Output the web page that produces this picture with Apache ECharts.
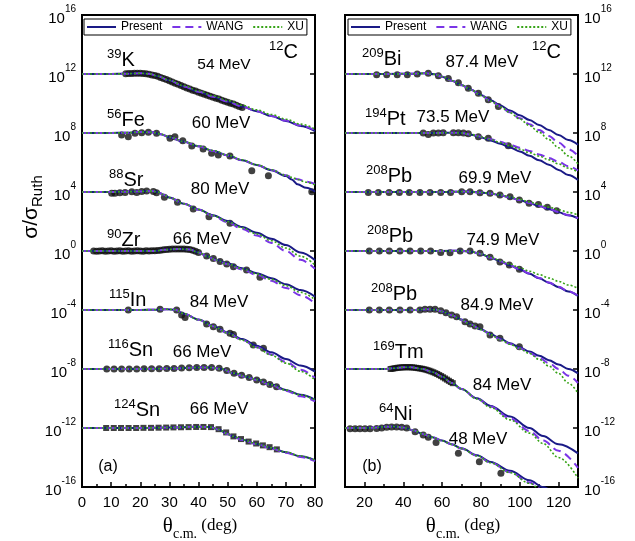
<!DOCTYPE html>
<html>
<head>
<meta charset="utf-8">
<script src="https://cdn.jsdelivr.net/npm/echarts@6/dist/echarts.min.js"></script>
<style>
  html, body { margin: 0; padding: 0; background: #fff; }
  #chart { width: 635px; height: 541px; }
</style>
</head>
<body>
<div id="chart"></div>
<script>
// Elastic 12C scattering: log10(sigma / sigma_Ruth) versus theta_c.m. (deg).
// Each reaction is shifted by a power of ten (the *Shift values) so the curves stack.

// ---------- panel (a) ----------
const k39Shift = 12;
const k39Theta   = [0, 10, 15, 20, 23, 26, 30, 35, 40, 45, 50, 55, 60, 65, 70, 75, 80];
const k39Present = [0, 0, 0.02, 0.05, 0.02, -0.15, -0.44, -0.84, -1.2, -1.54, -1.87, -2.2, -2.52, -2.85, -3.18, -3.52, -3.87];
const k39Wang    = [0, 0, 0.02, 0.05, 0.02, -0.15, -0.44, -0.84, -1.2, -1.54, -1.87, -2.2, -2.52, -2.84, -3.16, -3.49, -3.83];
const k39Xu      = [0, 0, 0.02, 0.05, 0.02, -0.14, -0.42, -0.8, -1.15, -1.48, -1.8, -2.12, -2.43, -2.75, -3.07, -3.4, -3.72];
const k39ExpTheta = [15, 16, 17, 18, 19, 20, 21, 22, 23, 24, 25, 26, 27, 28, 29, 30, 31, 32, 33, 34, 35, 36, 37, 38, 39, 40, 41, 42, 43, 44, 45, 46, 47, 48, 49, 50, 51, 52, 53, 54, 55];
const k39Exp = [0.02, 0.03, 0.04, 0.05, 0.05, 0.05, 0.04, 0.02, -0.02, -0.06, -0.1, -0.16, -0.24, -0.3, -0.38, -0.46, -0.55, -0.62, -0.7, -0.78, -0.87, -0.95, -1.02, -1.1, -1.16, -1.24, -1.3, -1.37, -1.44, -1.5, -1.58, -1.64, -1.7, -1.78, -1.85, -1.92, -1.98, -2.04, -2.12, -2.2, -2.27];

const fe56Shift = 8;
const fe56Theta   = [0, 10, 15, 20, 24, 27, 30, 35, 40, 45, 50, 55, 60, 65, 70, 72, 74, 77, 80];
const fe56Present = [0, 0, 0.02, 0.06, 0.05, -0.08, -0.28, -0.6, -0.9, -1.22, -1.52, -1.85, -2.17, -2.52, -2.92, -3.15, -3.48, -3.72, -3.98];
const fe56Wang    = [0, 0, 0.02, 0.06, 0.05, -0.08, -0.28, -0.6, -0.9, -1.22, -1.52, -1.85, -2.17, -2.5, -2.86, -3.0, -3.13, -3.3, -3.46];
const fe56Xu      = [0, 0, 0.02, 0.06, 0.05, -0.07, -0.27, -0.58, -0.88, -1.19, -1.5, -1.82, -2.15, -2.49, -2.86, -3.01, -3.15, -3.34, -3.52];
const fe56ExpTheta = [13.6, 15.9, 18.2, 20.5, 22.8, 25.6, 30.2, 31.9, 34.6, 37.7, 41.6, 44.5, 46.8, 50.8, 58.3, 64.0, 78.9];
const fe56Exp = [-0.14, -0.25, -0.02, 0.02, 0.05, -0.02, -0.36, -0.25, -0.52, -0.88, -1.08, -1.38, -1.49, -1.56, -2.56, -2.9, -3.98];

const sr88Shift = 4;
const sr88Theta   = [0, 10, 15, 20, 24, 26, 28, 30, 35, 40, 45, 50, 55, 60, 65, 70, 75, 80];
const sr88Present = [0, 0, 0.02, 0.04, 0.06, 0.0, -0.18, -0.38, -0.8, -1.18, -1.57, -1.97, -2.37, -2.77, -3.17, -3.6, -4.1, -4.62];
const sr88Wang    = [0, 0, 0.02, 0.04, 0.06, 0.0, -0.18, -0.38, -0.8, -1.2, -1.62, -2.05, -2.5, -2.95, -3.45, -4.0, -4.6, -5.2];
const sr88Xu      = [0, 0, 0.02, 0.04, 0.06, 0.0, -0.18, -0.38, -0.8, -1.19, -1.6, -2.0, -2.42, -2.85, -3.3, -3.8, -4.35, -4.95];
const sr88ExpTheta = [10.2, 11.3, 13.0, 14.8, 17.1, 18.8, 20.5, 22.2, 24.5, 25.6, 28.3, 32.8, 38.2, 43.6, 50.8];
const sr88Exp = [-0.08, -0.08, -0.05, -0.04, 0.02, -0.03, 0.03, 0.07, 0.04, -0.05, -0.36, -0.7, -1.15, -1.67, -2.12];

const zr90Shift = 0;
const zr90Theta   = [0, 10, 20, 25, 28, 33, 37, 40, 43, 46, 50, 55, 60, 65, 70, 75, 80];
const zr90Present = [0, 0, 0, 0, 0.08, 0.14, 0.1, -0.1, -0.35, -0.6, -0.85, -1.17, -1.5, -1.85, -2.25, -2.65, -3.1];
const zr90Wang    = [0, 0, 0, 0, 0.08, 0.14, 0.1, -0.1, -0.36, -0.62, -0.9, -1.25, -1.62, -2.02, -2.5, -3.0, -3.55];
const zr90Xu      = [0, 0, 0, 0, 0.08, 0.14, 0.1, -0.1, -0.35, -0.61, -0.88, -1.2, -1.55, -1.92, -2.35, -2.8, -3.3];
const zr90ExpTheta = [4, 5, 6, 7, 8, 9, 10, 11, 12, 13, 14, 15, 16, 17, 18, 19, 20, 21, 22, 23, 24, 25, 26, 27, 28, 29, 30, 31, 32, 33, 34, 35, 36, 37, 38, 39, 40, 42.8, 45.1, 47.4, 49.7, 52, 56.5, 61.1];
const zr90Exp = [0, -0.02, 0, 0.01, -0.02, 0, 0.01, -0.01, 0, 0.02, -0.01, 0, 0.01, -0.02, 0, 0.01, 0, -0.01, 0.01, 0, 0.02, 0.01, 0.03, 0.05, 0.08, 0.1, 0.12, 0.13, 0.14, 0.14, 0.14, 0.13, 0.12, 0.1, 0.05, -0.02, -0.1, -0.34, -0.5, -0.72, -0.88, -1.06, -1.29, -1.78];

const in115Shift = -4;
const in115Theta   = [0, 10, 20, 25, 29, 32, 35, 40, 45, 50, 55, 60, 65, 70, 75, 80];
const in115Present = [0, 0, 0, 0.02, 0.05, 0.02, -0.25, -0.65, -1.08, -1.52, -1.97, -2.42, -2.87, -3.32, -3.76, -4.18];
const in115Wang    = [0, 0, 0, 0.02, 0.05, 0.02, -0.25, -0.66, -1.1, -1.56, -2.03, -2.52, -3.02, -3.52, -4.05, -4.6];
const in115Xu      = [0, 0, 0, 0.02, 0.05, 0.02, -0.25, -0.66, -1.1, -1.56, -2.04, -2.54, -3.06, -3.6, -4.16, -4.75];
const in115ExpTheta = [15.9, 26.8, 32.5, 34.2, 35.4, 42.8, 45.1, 47.4, 50.8, 52.0, 58.8, 62.3];
const in115Exp = [0, 0.05, 0, -0.34, -0.5, -0.95, -1.13, -1.31, -1.58, -1.66, -2.37, -2.6];

const sn116Shift = -8;
const sn116Theta   = [0, 10, 20, 30, 40, 44, 48, 52, 56, 60, 65, 70, 75, 80];
const sn116Present = [0, 0, 0, 0.03, 0.1, 0.1, 0.0, -0.28, -0.5, -0.72, -1.05, -1.42, -1.75, -2.08];
const sn116Wang    = [0, 0, 0, 0.03, 0.1, 0.1, 0.0, -0.29, -0.52, -0.75, -1.1, -1.48, -1.84, -2.2];
const sn116Xu      = [0, 0, 0, 0.03, 0.1, 0.1, 0.0, -0.28, -0.5, -0.72, -1.06, -1.43, -1.76, -2.1];
const sn116ExpTheta = [8.5, 11.0, 13.6, 16.2, 18.8, 21.3, 23.9, 26.5, 29.1, 31.6, 34.2, 36.8, 39.4, 41.9, 44.5, 47.1, 49.7, 52.2, 54.8, 57.4, 60.0, 62.3, 64.5, 66.8];
const sn116Exp = [0, 0, 0, 0, 0, 0.01, 0.01, 0.02, 0.03, 0.04, 0.06, 0.08, 0.1, 0.1, 0.1, 0.05, -0.1, -0.28, -0.42, -0.58, -0.75, -0.88, -1.05, -1.2];

const sn124Shift = -12;
const sn124Theta   = [0, 10, 20, 30, 40, 44, 47, 50, 52, 55, 60, 65, 70, 75, 80];
const sn124Present = [0, 0, 0, 0.03, 0.08, 0.06, -0.12, -0.4, -0.57, -0.8, -1.08, -1.35, -1.65, -1.92, -2.2];
const sn124Wang    = [0, 0, 0, 0.03, 0.08, 0.06, -0.12, -0.41, -0.58, -0.82, -1.1, -1.38, -1.68, -1.96, -2.25];
const sn124Xu      = [0, 0, 0, 0.03, 0.08, 0.06, -0.11, -0.39, -0.56, -0.79, -1.07, -1.34, -1.63, -1.9, -2.18];
const sn124ExpTheta = [8.3, 10.9, 13.4, 16.0, 18.6, 21.1, 23.7, 26.3, 28.9, 31.4, 34.0, 36.6, 39.2, 41.7, 44.3, 46.9, 49.5, 52.0, 54.6, 57.2, 59.8, 62.1, 64.4, 66.9];
const sn124Exp = [0, 0, 0, 0, 0, 0.01, 0.01, 0.02, 0.03, 0.04, 0.05, 0.06, 0.07, 0.07, 0.06, -0.08, -0.3, -0.57, -0.75, -0.92, -1.05, -1.18, -1.3, -1.45];

// ---------- panel (b) ----------
const bi209Shift = 12;
const bi209Theta   = [10, 30, 45, 52, 56, 60, 65, 70, 75, 80, 85, 90, 95, 100, 105, 110, 115, 120, 125, 130];
const bi209Present = [0, 0, 0.02, 0.05, -0.02, -0.18, -0.45, -0.75, -1.07, -1.42, -1.78, -2.13, -2.47, -2.8, -3.12, -3.45, -3.8, -4.13, -4.47, -4.8];
const bi209Wang    = [0, 0, 0.02, 0.05, -0.02, -0.18, -0.45, -0.76, -1.09, -1.45, -1.83, -2.2, -2.6, -3.0, -3.4, -3.8, -4.2, -4.65, -5.1, -5.55];
const bi209Xu      = [0, 0, 0.02, 0.05, -0.02, -0.17, -0.44, -0.75, -1.08, -1.45, -1.84, -2.22, -2.62, -3.05, -3.5, -3.95, -4.45, -5.0, -5.55, -6.1];
const bi209ExpTheta = [26.3, 31.5, 36.9, 42.1, 47.2, 52.9, 58.1, 63.2, 68.4, 73.5, 78.7, 83.8, 89.0];
const bi209Exp = [-0.05, -0.05, -0.05, -0.05, 0, 0.05, -0.12, -0.3, -0.6, -0.97, -1.3, -1.75, -2.2];

const pt194Shift = 8;
const pt194Theta   = [10, 40, 55, 65, 70, 75, 80, 85, 90, 95, 100, 105, 110, 115, 120, 125, 130];
const pt194Present = [0, 0, 0, 0.02, 0, -0.12, -0.3, -0.5, -0.73, -0.98, -1.25, -1.55, -1.85, -2.15, -2.5, -2.85, -3.19];
const pt194Wang    = [0, 0, 0, 0.02, 0, -0.1, -0.25, -0.42, -0.6, -0.8, -1.0, -1.22, -1.45, -1.7, -1.95, -2.25, -2.55];
const pt194Xu      = [0, 0, 0, 0.02, 0, -0.1, -0.26, -0.45, -0.65, -0.87, -1.1, -1.33, -1.57, -1.82, -2.1, -2.38, -2.65];
const pt194ExpTheta = [50.3, 52.9, 55.5, 58.1, 60.6, 65.8, 68.4, 71.0, 73.5, 78.7, 83.8, 94.1];
const pt194Exp = [0, -0.1, 0, 0, 0.02, 0.02, 0.02, 0, -0.05, -0.25, -0.36, -0.86];

const pb70Shift = 4;
const pb70Theta   = [10, 60, 72, 80, 85, 90, 95, 100, 105, 110, 115, 120, 125, 130];
const pb70Present = [0, 0, 0.03, -0.03, -0.1, -0.22, -0.38, -0.55, -0.75, -0.95, -1.15, -1.38, -1.58, -1.79];
const pb70Wang    = [0, 0, 0.03, -0.03, -0.1, -0.22, -0.38, -0.55, -0.74, -0.94, -1.14, -1.36, -1.57, -1.78];
const pb70Xu      = [0, 0, 0.03, -0.03, -0.09, -0.2, -0.34, -0.5, -0.68, -0.85, -1.03, -1.2, -1.38, -1.56];
const pb70ExpTheta = [22.0, 27.2, 32.7, 38.0, 43.1, 48.6, 53.8, 59.3, 64.4, 70.1, 74.4, 79.5, 84.7, 89.8, 95.0, 99.8, 104.8, 109.6, 114.2, 119.0];
const pb70Exp = [-0.03, -0.03, -0.03, -0.03, -0.03, -0.03, -0.03, -0.03, -0.03, 0.02, 0.02, -0.05, -0.09, -0.2, -0.32, -0.54, -0.77, -0.84, -1.04, -1.27];

const pb75Shift = 0;
const pb75Theta   = [10, 60, 70, 75, 80, 85, 90, 95, 100, 105, 110, 115, 120, 125, 130];
const pb75Present = [0, 0, 0.02, -0.05, -0.2, -0.45, -0.7, -0.98, -1.25, -1.55, -1.85, -2.15, -2.45, -2.75, -3.05];
const pb75Wang    = [0, 0, 0.02, -0.05, -0.2, -0.45, -0.7, -0.97, -1.24, -1.53, -1.83, -2.13, -2.43, -2.73, -3.03];
const pb75Xu      = [0, 0, 0.02, -0.05, -0.2, -0.43, -0.66, -0.9, -1.13, -1.37, -1.6, -1.83, -2.06, -2.3, -2.53];
const pb75ExpTheta = [22.5, 27.7, 32.8, 38.3, 43.5, 49.0, 54.1, 59.3, 64.1, 69.3, 74.4, 79.5, 84.7, 89.8, 94.6, 99.8];
const pb75Exp = [0, 0, 0, 0, 0, 0, 0, -0.1, -0.12, 0, 0, -0.15, -0.43, -0.75, -0.95, -1.24];

const pb85Shift = -4;
const pb85Theta   = [10, 45, 52, 57, 60, 65, 70, 75, 80, 85, 90, 95, 100, 105, 110, 115, 120, 125, 130];
const pb85Present = [0, 0, 0.05, 0.02, -0.1, -0.35, -0.65, -0.98, -1.3, -1.62, -1.95, -2.25, -2.55, -2.82, -3.1, -3.4, -3.7, -4.0, -4.3];
const pb85Wang    = [0, 0, 0.05, 0.02, -0.1, -0.36, -0.67, -1.0, -1.33, -1.66, -2.0, -2.3, -2.6, -2.9, -3.25, -3.6, -4.0, -4.45, -4.95];
const pb85Xu      = [0, 0, 0.05, 0.02, -0.1, -0.36, -0.67, -1.0, -1.33, -1.67, -2.02, -2.32, -2.62, -2.95, -3.35, -3.8, -4.3, -4.95, -5.65];
const pb85ExpTheta = [22.5, 27.7, 32.8, 38.3, 43.5, 48.6, 51.2, 53.8, 56.4, 59.3, 62.0, 64.9, 67.5, 71.8, 74.4, 77.0, 79.5, 84.7, 89.8, 99.8];
const pb85Exp = [0, 0, 0, 0, 0, 0, 0.05, 0.05, 0.05, -0.05, -0.18, -0.34, -0.45, -0.79, -0.95, -1.08, -1.13, -1.69, -1.92, -2.49];

const tm169Shift = -8;
const tm169Theta   = [10, 30, 35, 40, 44, 50, 55, 60, 65, 70, 78, 85, 95, 105, 112, 120, 130];
const tm169Present = [0, 0, 0.05, 0.12, 0.12, 0.0, -0.2, -0.52, -0.95, -1.35, -1.99, -2.5, -3.22, -4.0, -4.55, -5.1, -5.72];
const tm169Wang    = [0, 0, 0.05, 0.12, 0.12, 0.0, -0.2, -0.52, -0.95, -1.36, -2.02, -2.55, -3.35, -4.2, -4.85, -5.55, -6.7];
const tm169Xu      = [0, 0, 0.05, 0.12, 0.12, 0.0, -0.2, -0.52, -0.95, -1.36, -2.03, -2.6, -3.45, -4.35, -5.05, -6.0, -7.4];
const tm169ExpTheta = [33.5, 34.5, 35.5, 36.5, 37.5, 38.5, 39.5, 40.5, 41.5, 42.5, 43.5, 44.5, 45.5, 46.5, 47.5, 48.5, 49.5, 50.5, 51.5, 52.5, 53.5, 54.5, 55.5, 56.5, 57.5, 58.5, 59.5, 60.5, 61.5, 62.5, 63.5, 64.5, 65.5];
const tm169Exp = [0.0, 0.02, 0.05, 0.07, 0.09, 0.1, 0.11, 0.12, 0.12, 0.12, 0.12, 0.11, 0.1, 0.08, 0.06, 0.04, 0.02, -0.01, -0.04, -0.08, -0.12, -0.17, -0.22, -0.28, -0.34, -0.41, -0.48, -0.56, -0.64, -0.72, -0.8, -0.88, -0.96];

const ni64Shift = -12;
const ni64Theta   = [10, 20, 25, 30, 35, 40, 45, 50, 55, 60, 65, 70, 78, 85, 95, 105, 112, 120, 130];
const ni64Present = [0, 0, 0.02, 0.08, 0.1, 0.03, -0.15, -0.4, -0.63, -0.85, -1.1, -1.38, -1.85, -2.3, -2.9, -3.55, -4.0, -4.55, -5.2];
const ni64Wang    = [0, 0, 0.02, 0.08, 0.1, 0.03, -0.15, -0.4, -0.63, -0.86, -1.12, -1.4, -1.88, -2.35, -3.0, -3.7, -4.2, -4.8, -5.5];
const ni64Xu      = [0, 0, 0.02, 0.08, 0.1, 0.03, -0.15, -0.4, -0.63, -0.86, -1.12, -1.4, -1.88, -2.36, -3.02, -3.75, -4.3, -4.95, -5.7];
const ni64ExpTheta = [12.6, 15.2, 17.7, 20.3, 22.9, 26.3, 28.9, 31.5, 34.0, 36.6, 39.2, 41.8, 46.1, 50.3, 52.9, 56.9, 68.4, 79.2, 90.3];
const ni64Exp = [-0.05, -0.05, -0.05, -0.05, -0.05, -0.03, 0.0, 0.05, 0.07, 0.07, 0.05, 0.0, -0.25, -0.47, -0.63, -0.99, -1.72, -2.28, -3.07];

// tick values
const xTicksA = [0, 10, 20, 30, 40, 50, 60, 70, 80];
const xTicksB = [20, 40, 60, 80, 100, 120];
const xMinorB = [30, 50, 70, 90, 110];

// ---------- assemble ----------
const panels = [
  { panel: 0, shift: k39Shift,  theta: k39Theta,  present: k39Present,  wang: k39Wang,  xu: k39Xu,  expTheta: k39ExpTheta,  exp: k39Exp,  symbol: 'circle' },
  { panel: 0, shift: fe56Shift, theta: fe56Theta, present: fe56Present, wang: fe56Wang, xu: fe56Xu, expTheta: fe56ExpTheta, exp: fe56Exp, symbol: 'circle' },
  { panel: 0, shift: sr88Shift, theta: sr88Theta, present: sr88Present, wang: sr88Wang, xu: sr88Xu, expTheta: sr88ExpTheta, exp: sr88Exp, symbol: 'circle' },
  { panel: 0, shift: zr90Shift, theta: zr90Theta, present: zr90Present, wang: zr90Wang, xu: zr90Xu, expTheta: zr90ExpTheta, exp: zr90Exp, symbol: 'circle' },
  { panel: 0, shift: in115Shift, theta: in115Theta, present: in115Present, wang: in115Wang, xu: in115Xu, expTheta: in115ExpTheta, exp: in115Exp, symbol: 'circle' },
  { panel: 0, shift: sn116Shift, theta: sn116Theta, present: sn116Present, wang: sn116Wang, xu: sn116Xu, expTheta: sn116ExpTheta, exp: sn116Exp, symbol: 'circle' },
  { panel: 0, shift: sn124Shift, theta: sn124Theta, present: sn124Present, wang: sn124Wang, xu: sn124Xu, expTheta: sn124ExpTheta, exp: sn124Exp, symbol: 'rect' },
  { panel: 1, shift: bi209Shift, theta: bi209Theta, present: bi209Present, wang: bi209Wang, xu: bi209Xu, expTheta: bi209ExpTheta, exp: bi209Exp, symbol: 'circle' },
  { panel: 1, shift: pt194Shift, theta: pt194Theta, present: pt194Present, wang: pt194Wang, xu: pt194Xu, expTheta: pt194ExpTheta, exp: pt194Exp, symbol: 'circle' },
  { panel: 1, shift: pb70Shift, theta: pb70Theta, present: pb70Present, wang: pb70Wang, xu: pb70Xu, expTheta: pb70ExpTheta, exp: pb70Exp, symbol: 'circle' },
  { panel: 1, shift: pb75Shift, theta: pb75Theta, present: pb75Present, wang: pb75Wang, xu: pb75Xu, expTheta: pb75ExpTheta, exp: pb75Exp, symbol: 'circle' },
  { panel: 1, shift: pb85Shift, theta: pb85Theta, present: pb85Present, wang: pb85Wang, xu: pb85Xu, expTheta: pb85ExpTheta, exp: pb85Exp, symbol: 'circle' },
  { panel: 1, shift: tm169Shift, theta: tm169Theta, present: tm169Present, wang: tm169Wang, xu: tm169Xu, expTheta: tm169ExpTheta, exp: tm169Exp, symbol: 'rect' },
  { panel: 1, shift: ni64Shift, theta: ni64Theta, present: ni64Present, wang: ni64Wang, xu: ni64Xu, expTheta: ni64ExpTheta, exp: ni64Exp, symbol: 'circle' }
];

const SANS = '"Liberation Sans", Arial, Helvetica, sans-serif';
const SERIF = '"Liberation Serif", "Times New Roman", serif';
const NAVY = '#1a1a86';
const PURPLE = '#7a35e6';
const GREEN = '#36a316';

// log10 ratio + shift -> plotted cross-section ratio
function pairs(theta, logRatio, shift) {
  return theta.map((t, i) => [t, Math.pow(10, logRatio[i] + shift)]);
}

const series = [];
panels.forEach(r => {
  const xIdx = r.panel === 0 ? 0 : 1;
  const yIdx = r.panel === 0 ? 0 : 2;
  series.push({
    type: 'scatter', xAxisIndex: xIdx, yAxisIndex: yIdx, silent: true, z: 2,
    symbol: r.symbol, symbolSize: r.symbol === 'rect' ? 6 : 7,
    itemStyle: { color: '#111' },
    data: pairs(r.expTheta, r.exp, r.shift)
  });
  const common = { type: 'line', xAxisIndex: xIdx, yAxisIndex: yIdx, symbol: 'none', showSymbol: false,
                   smooth: 0.35, smoothMonotone: 'x', silent: true, animation: false };
  series.push(Object.assign({}, common, { name: 'Present', z: 3,
    lineStyle: { color: NAVY, width: 2 }, itemStyle: { color: NAVY },
    data: pairs(r.theta, r.present, r.shift) }));
  series.push(Object.assign({}, common, { name: 'WANG', z: 4,
    lineStyle: { color: PURPLE, width: 2, type: [8, 5] }, itemStyle: { color: PURPLE },
    data: pairs(r.theta, r.wang, r.shift) }));
  series.push(Object.assign({}, common, { name: 'XU', z: 5,
    lineStyle: { color: GREEN, width: 1.6, type: [2, 2] }, itemStyle: { color: GREEN },
    data: pairs(r.theta, r.xu, r.shift) }));
});

const tickStyle = { color: '#000', width: 1.5 };
function yAxisDef(grid, pos, labels) {
  return {
    gridIndex: grid, type: 'log', logBase: 10, min: 1e-16, max: 1e16, interval: 4, position: pos,
    axisLine: { show: false }, splitLine: { show: false },
    axisTick: { show: true, inside: true, length: 5, lineStyle: tickStyle },
    axisLabel: {
      show: labels, margin: 6, color: '#000',
      formatter: v => '{b|10}{s|' + Math.round(Math.log10(v)) + '}',
      rich: {
        b: { fontFamily: SANS, fontSize: 15, color: '#000', lineHeight: 22, verticalAlign: 'bottom' },
        s: { fontFamily: SANS, fontSize: 10, color: '#000', lineHeight: 22, verticalAlign: 'top' }
      }
    }
  };
}

// legend shows only the line sample (the marker is made invisible)
const legendCommon = {
  top: 19, itemWidth: 29, itemHeight: 12, itemGap: 9, padding: [2, 3, 2, 2],
  borderColor: '#000', borderWidth: 1, borderRadius: 0,
  data: ['Present', 'WANG', 'XU'], selectedMode: false,
  itemStyle: { opacity: 0 },
  textStyle: { fontFamily: SANS, fontSize: 12, color: '#000' }
};

function nucleus(sup, sym, x, y) {
  return { type: 'text', x: x, y: y, silent: true,
    style: { text: '{s|' + sup + '}{m|' + sym + '}', fill: '#000', verticalAlign: 'top',
      rich: { s: { fontFamily: SANS, fontSize: 13, fill: '#000', lineHeight: 22, verticalAlign: 'top' },
              m: { fontFamily: SANS, fontSize: 20, fill: '#000', lineHeight: 22, verticalAlign: 'bottom' } } } };
}
function energy(txt, cx, cy, size) {
  return { type: 'text', x: cx, y: cy, silent: true,
    style: { text: txt, fill: '#000', font: (size || 17) + 'px ' + SANS, align: 'center', verticalAlign: 'middle' } };
}
function thetaLabel(cx) {
  return { type: 'text', x: cx, y: 526, silent: true,
    style: { text: '{t|θ}{s|c.m.}{d| (deg)}', align: 'center', verticalAlign: 'middle', fill: '#000',
      rich: { t: { fontFamily: SERIF, fontSize: 21, lineHeight: 30, fill: '#000', verticalAlign: 'middle' },
              s: { fontFamily: SERIF, fontSize: 14, lineHeight: 14, fill: '#000', verticalAlign: 'bottom' },
              d: { fontFamily: SERIF, fontSize: 17, lineHeight: 30, fill: '#000', verticalAlign: 'middle' } } } };
}

const graphics = [
  nucleus('39', 'K', 107, 48), energy('54 MeV', 224, 65, 15.5),
  nucleus('56', 'Fe', 107, 108), energy('60 MeV', 221, 123),
  nucleus('88', 'Sr', 109, 168), energy('80 MeV', 220, 189),
  nucleus('90', 'Zr', 107, 228), energy('66 MeV', 202, 239),
  nucleus('115', 'In', 109, 288), energy('84 MeV', 219, 302),
  nucleus('116', 'Sn', 108, 338), energy('66 MeV', 202, 352),
  nucleus('124', 'Sn', 114, 398), energy('66 MeV', 219, 409),
  { type: 'text', x: 108, y: 467, silent: true, style: { text: '(a)', font: '16px ' + SANS, fill: '#000', align: 'center', verticalAlign: 'middle' } },
  nucleus('12', 'C', 269, 40),
  nucleus('209', 'Bi', 362, 47), energy('87.4 MeV', 482, 62),
  nucleus('194', 'Pt', 365, 107), energy('73.5 MeV', 453, 117),
  nucleus('208', 'Pb', 366, 164), energy('69.9 MeV', 495, 178),
  nucleus('208', 'Pb', 367, 224), energy('74.9 MeV', 503, 240),
  nucleus('208', 'Pb', 371, 282), energy('84.9 MeV', 497, 305),
  nucleus('169', 'Tm', 373, 340), energy('84 MeV', 502, 385),
  nucleus('64', 'Ni', 379, 402), energy('48 MeV', 478, 439),
  { type: 'text', x: 372, y: 467, silent: true, style: { text: '(b)', font: '16px ' + SANS, fill: '#000', align: 'center', verticalAlign: 'middle' } },
  nucleus('12', 'C', 532, 40),
  { type: 'text', x: 31, y: 207, rotation: Math.PI / 2, silent: true,
    style: { text: '{a|σ/σ}{b|Ruth}', align: 'center', verticalAlign: 'middle', fill: '#000',
      rich: { a: { fontFamily: SANS, fontSize: 21, lineHeight: 28, fill: '#000', verticalAlign: 'middle' },
              b: { fontFamily: SANS, fontSize: 15, lineHeight: 15, fill: '#000', verticalAlign: 'bottom' } } } },
  thetaLabel(200), thetaLabel(463)
];

const chart = echarts.init(document.getElementById('chart'), null, { renderer: 'canvas' });
chart.setOption({
  animation: false,
  backgroundColor: '#fff',
  grid: [
    { left: 82, top: 15, width: 233, height: 472, show: true, borderColor: '#000', borderWidth: 2, backgroundColor: 'transparent' },
    { left: 345, top: 15, width: 233, height: 472, show: true, borderColor: '#000', borderWidth: 2, backgroundColor: 'transparent' }
  ],
  legend: [
    Object.assign({}, legendCommon, { left: 84 }),
    Object.assign({}, legendCommon, { left: 348 })
  ],
  xAxis: [
    { gridIndex: 0, type: 'value', min: 0, max: 80, interval: 10,
      axisLine: { show: false }, splitLine: { show: false },
      axisTick: { inside: true, length: 5, lineStyle: tickStyle },
      minorTick: { show: true, splitNumber: 2, length: 3, lineStyle: tickStyle },
      axisLabel: { margin: 8, color: '#000', fontFamily: SANS, fontSize: 15, customValues: xTicksA } },
    { gridIndex: 1, type: 'value', min: 10, max: 130,
      axisLine: { show: false }, splitLine: { show: false },
      axisTick: { inside: true, length: 5, lineStyle: tickStyle, customValues: xTicksB },
      axisLabel: { margin: 8, color: '#000', fontFamily: SANS, fontSize: 15, customValues: xTicksB } },
    { gridIndex: 1, type: 'value', min: 10, max: 130, position: 'bottom',
      axisLine: { show: false }, splitLine: { show: false },
      axisTick: { inside: true, length: 3, lineStyle: tickStyle, customValues: xMinorB },
      axisLabel: { show: false, customValues: xMinorB } }
  ],
  yAxis: [
    yAxisDef(0, 'left', true),
    yAxisDef(0, 'right', false),
    yAxisDef(1, 'right', true),
    yAxisDef(1, 'left', false)
  ],
  series: series,
  graphic: graphics
});
</script>
</body>
</html>
